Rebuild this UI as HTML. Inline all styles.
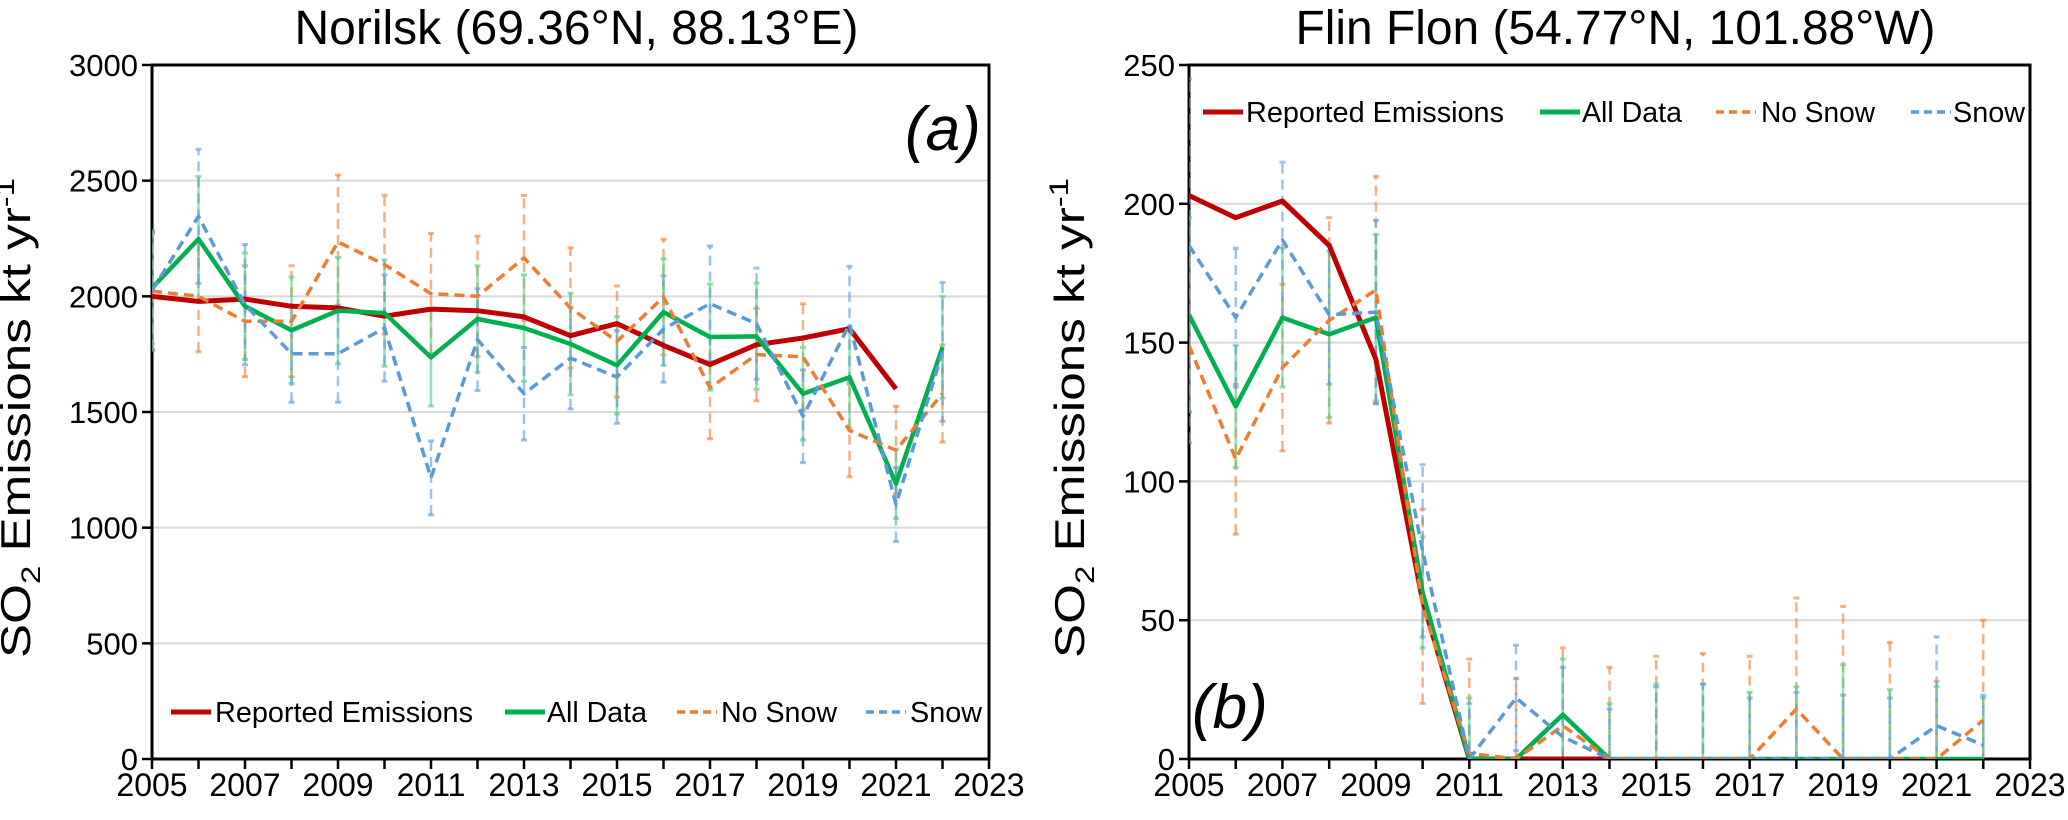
<!DOCTYPE html>
<html><head><meta charset="utf-8"><style>
html,body{margin:0;background:#fff;overflow:hidden;width:2068px;height:820px;}
svg{display:block;font-family:"Liberation Sans",sans-serif;}
</style></head><body>
<svg id="fig" width="2068" height="820" viewBox="0 0 2068 820" overflow="hidden"></svg>
<script>
const years = [2005,2006,2007,2008,2009,2010,2011,2012,2013,2014,2015,2016,2017,2018,2019,2020,2021,2022];
const xTicks = [2005,2007,2009,2011,2013,2015,2017,2019,2021,2023];
// Norilsk
const norYTicks = [0,500,1000,1500,2000,2500,3000];
const norReported = [2000,1978,1988,1957,1950,1914,1945,1938,1911,1830,1882,1788,1705,1791,1820,1860,1600,null];
const norAll = [2036,2248,1957,1853,1938,1928,1736,1902,1863,1794,1702,1932,1824,1827,1579,1650,1190,1780];
const norNoSnow = [2022,2000,1892,1892,2235,2137,2012,2000,2166,1950,1805,1997,1604,1748,1738,1420,1335,1580];
const norSnow = [2025,2346,1964,1752,1752,1863,1215,1813,1579,1733,1651,1859,1968,1882,1481,1880,1100,1760];
const norAllErr = [240,270,230,230,230,230,210,230,230,220,210,230,230,230,200,220,150,220];
const norNoSnowErr = [250,240,240,240,290,300,260,260,270,260,240,250,220,200,230,200,190,210];
const norSnowErr = [260,290,260,210,210,230,160,220,200,220,200,230,250,240,200,250,160,300];
// Flin Flon
const ffYTicks = [0,50,100,150,200,250];
const ffReported = [203,195,201,185,144,57,0,0,0,0,null,null,null,null,null,null,null,null];
const ffAll = [160,127,159,153,159,60,0,0,16,0,0,0,0,0,0,0,0,0];
const ffNoSnow = [149,108,141,158,169,55,2,0,12,0,0,0,0,18,0,0,0,14];
const ffSnow = [185,159,187,160,161,75,0,22,8,0,0,0,0,0,0,0,12,5];
const ffAllErr = [35,22,25,30,30,20,22,0,20,20,27,27,24,26,34,25,26,22];
const ffNoSnowErr = [35,27,30,37,41,35,34,29,28,33,37,38,37,40,55,42,28,36];
const ffSnowErr = [60,25,28,25,33,31,20,19,25,18,26,27,22,24,23,22,32,18];

const NS="http://www.w3.org/2000/svg";
const svg=document.getElementById('fig');
function mk(tag,attrs,parent){const e=document.createElementNS(NS,tag);for(const k in attrs)e.setAttribute(k,attrs[k]);(parent||svg).appendChild(e);return e;}
const COL={rep:"#C00000",all:"#00B050",no:"#ED7D31",snow:"#5B9BD5"};

function chart(cfg){
  const g=mk('g',{});
  
  
  const L=cfg.x0,R=cfg.x1,T=65,B=759;
  const xs=v=>L+(v-2005)/(2023-2005)*(R-L);
  const ys=v=>B-(v/cfg.ymax)*(B-T);
  cfg.yTicks.forEach(t=>{
    if(t>0&&t<cfg.ymax){const gl=mk('line',{x1:L,x2:R,y1:ys(t),y2:ys(t),stroke:"#d9d9d9","stroke-width":2},g);
      }
    const tl=mk('line',{x1:L-10,x2:L,y1:ys(t),y2:ys(t),stroke:"#000","stroke-width":2.5},g);
    
    const tx=mk('text',{x:L-14,y:ys(t)+11,"text-anchor":"end","font-size":31},g);
    tx.textContent=t;
    
  });
  const fr=mk('rect',{x:L,y:T,width:R-L,height:B-T,fill:"none",stroke:"#000","stroke-width":3},g);
  
  for(let y=2005;y<=2023;y++){
    const tk=mk('line',{x1:xs(y),x2:xs(y),y1:B,y2:B+10,stroke:"#000","stroke-width":2.5},g);
    
  }
  xTicks.forEach(t=>{
    const tx=mk('text',{x:xs(t),y:796,"text-anchor":"middle","font-size":32},g);
    tx.textContent=t;
    
  });
  const clipId='clip'+cfg.name;
  const cp=mk('clipPath',{id:clipId},g);mk('rect',{x:L,y:T,width:R-L,height:B-T},cp);
  const pg=mk('g',{"clip-path":`url(#${clipId})`},g);
  function errs(vals,err,col,dash,nm){
    vals.forEach((v,i)=>{
      if(v==null)return;
      const x=xs(years[i]);
      const eb=mk('line',{x1:x,x2:x,y1:ys(v-err[i]),y2:ys(v+err[i]),stroke:col,"stroke-width":2.5,"stroke-opacity":0.6,"stroke-dasharray":dash},pg);
      
      [v-err[i],v+err[i]].forEach(e=>{
        const c=mk('line',{x1:x-3,x2:x+3,y1:ys(e),y2:ys(e),stroke:col,"stroke-width":3,"stroke-opacity":0.6},pg);
        
      });
    });
  }
  errs(cfg.no,cfg.noE,COL.no,"10 6","no-snow");
  errs(cfg.all,cfg.allE,"#4ccf80","none","all-data");
  errs(cfg.snow,cfg.snowE,COL.snow,"10 6","snow");
  function line(vals,col,w,dash,nm){
    let d='';let pen=false;
    vals.forEach((v,i)=>{if(v==null){pen=false;return;}d+=(pen?'L':'M')+xs(years[i]).toFixed(1)+','+ys(v).toFixed(1)+' ';pen=true;});
    const p=mk('path',{d:d,fill:"none",stroke:col,"stroke-width":w,"stroke-dasharray":dash,"stroke-linejoin":"round"},pg);
    
  }
  line(cfg.rep,COL.rep,5,"none","reported-emissions");
  line(cfg.all,COL.all,4.5,"none","all-data");
  line(cfg.no,COL.no,3.5,"10 6","no-snow");
  line(cfg.snow,COL.snow,3.5,"10 6","snow");
  const tt=mk('text',{x:(L+R)/2+6,y:44,"text-anchor":"middle","font-size":48,textLength:cfg.tw,lengthAdjust:"spacingAndGlyphs"},g);
  tt.textContent=cfg.title;
  
  const yt=mk('text',{transform:`translate(${cfg.ytx},418) rotate(-90)`,"text-anchor":"middle","font-size":42,textLength:480,lengthAdjust:"spacingAndGlyphs"},g);
  yt.innerHTML='SO<tspan font-size="27" dy="10">2</tspan><tspan dy="-10"> Emissions kt yr</tspan><tspan font-size="27" dy="-16">-1</tspan>';
  
  const pl=mk('text',{x:cfg.px,y:cfg.py,"font-size":62,"font-style":"italic"},g);
  pl.textContent=cfg.panel;
  
  const ents=[["Reported Emissions",COL.rep,"none",5],["All Data",COL.all,"none",5],["No Snow",COL.no,"8 5",3.5],["Snow",COL.snow,"8 5",3.5]];
  ents.forEach((e,i)=>{
    const lg=mk('g',{},g);
    
    const lx=cfg.leg[i][0],tx=cfg.leg[i][1];
    mk('line',{x1:lx,x2:lx+40,y1:cfg.ly,y2:cfg.ly,stroke:e[1],"stroke-width":e[3],"stroke-dasharray":e[2]},lg);
    const t=mk('text',{x:tx,y:cfg.ly+10,"font-size":29,textLength:cfg.leg[i][2],lengthAdjust:"spacingAndGlyphs"},lg);
    t.textContent=e[0];
  });
}
chart({name:"norilsk-chart",x0:152,x1:989,ymax:3000,yTicks:norYTicks,rep:norReported,all:norAll,no:norNoSnow,snow:norSnow,
  allE:norAllErr,noE:norNoSnowErr,snowE:norSnowErr,title:"Norilsk (69.36°N, 88.13°E)",tw:564,ytx:30,panel:"(a)",px:905,py:150,
  ly:712,leg:[[171,215,258],[505,547,100],[677,721,116],[866,910,72]]});
chart({name:"flin-flon-chart",x0:1189,x1:2030,ymax:250,yTicks:ffYTicks,rep:ffReported,all:ffAll,no:ffNoSnow,snow:ffSnow,
  allE:ffAllErr,noE:ffNoSnowErr,snowE:ffSnowErr,title:"Flin Flon (54.77°N, 101.88°W)",tw:640,ytx:1084,panel:"(b)",px:1192,py:728,
  ly:112,leg:[[1203,1246,258],[1540,1582,100],[1716,1761,114],[1911,1953,72]]});
</script>
</body></html>
